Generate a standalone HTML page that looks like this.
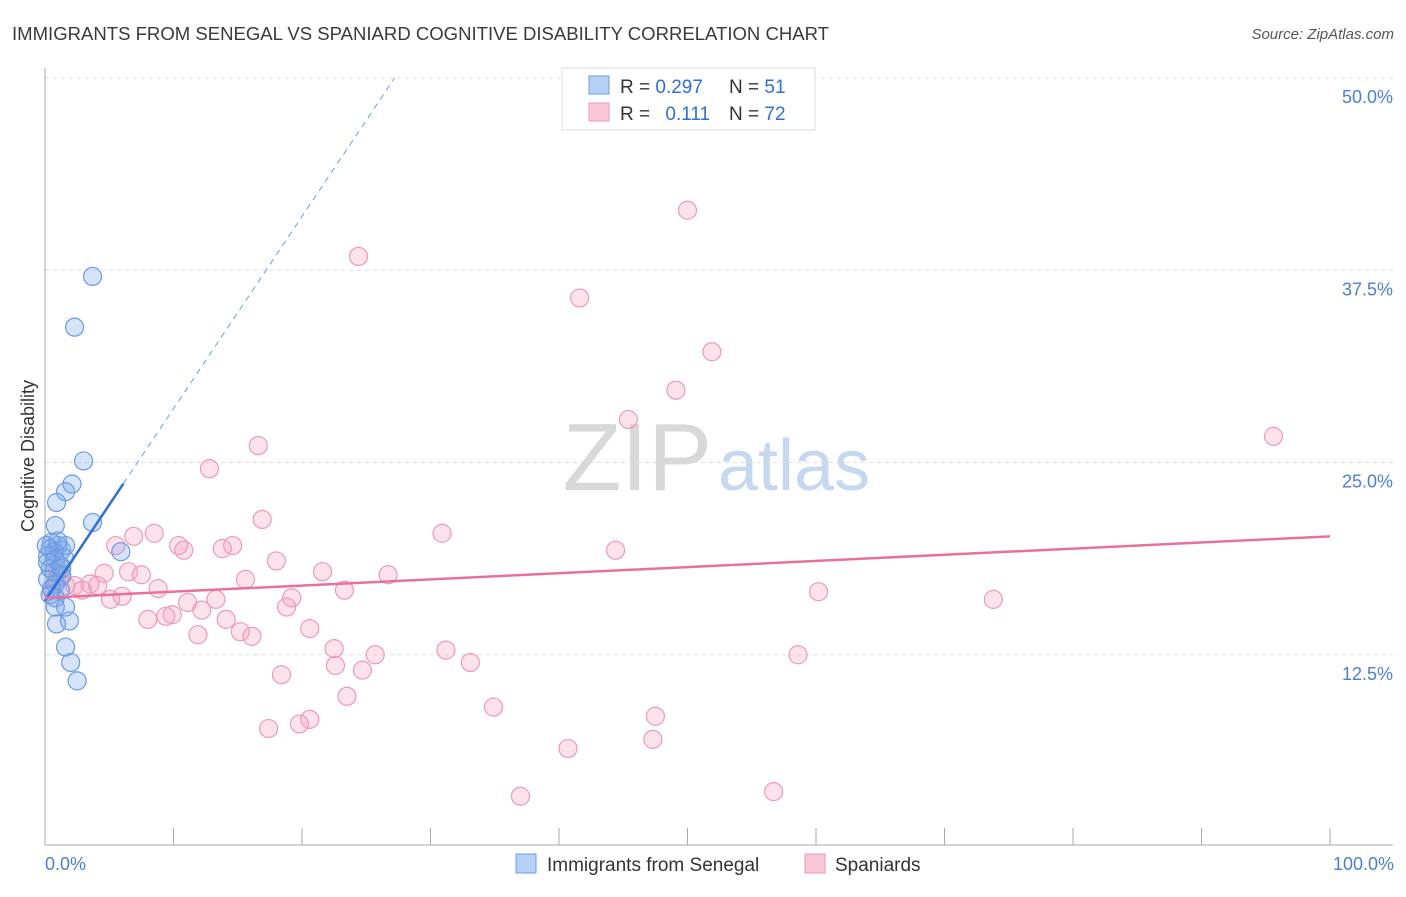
<!DOCTYPE html>
<html><head><meta charset="utf-8"><style>
body{margin:0;background:#fff;font-family:"Liberation Sans",sans-serif;}
svg text{font-family:"Liberation Sans",sans-serif;}
</style></head><body>
<svg id="chart" width="1406" height="892" xmlns="http://www.w3.org/2000/svg">
<text x="12" y="40" font-size="18" fill="#3a3a3a" textLength="817" lengthAdjust="spacingAndGlyphs">IMMIGRANTS FROM SENEGAL VS SPANIARD COGNITIVE DISABILITY CORRELATION CHART</text>
<text x="1394" y="39" font-size="15" fill="#555" font-style="italic" text-anchor="end">Source: ZipAtlas.com</text>
<text x="712" y="490" font-size="96" fill="#d8d8d8" text-anchor="end" font-family="Liberation Serif">ZIP</text>
<text x="718" y="490" font-size="72" fill="#c6d8f0">atlas</text>
<g id="grid"></g>
<g id="axes"></g>
<g id="pts"></g>
<g id="lines"></g>
<text transform="translate(34,456) rotate(-90)" font-size="18" fill="#333" text-anchor="middle">Cognitive Disability</text>
<text x="45" y="870" font-size="18" fill="#4a7fd4">0.0%</text>
<text x="1394" y="870" font-size="18" fill="#4a7fd4" text-anchor="end">100.0%</text>
<g>
<rect x="562" y="68" width="253" height="62" fill="#fff" stroke="#ddd"/>
<rect x="589" y="76" width="20" height="18" fill="#b5d0f5" stroke="#6b9be0"/>
<rect x="589" y="103" width="20" height="18" fill="#f9c8d8" stroke="#eb9ab7"/>
<text x="620" y="93" font-size="19" fill="#333">R = <tspan fill="#2f6fd6">0.297</tspan></text>
<text x="729" y="93" font-size="19" fill="#333">N = <tspan fill="#2f6fd6">51</tspan></text>
<text x="620" y="120" font-size="19" fill="#333">R = <tspan fill="#2f6fd6" dx="10">0.111</tspan></text>
<text x="729" y="120" font-size="19" fill="#333">N = <tspan fill="#2f6fd6">72</tspan></text>
</g>
<g>
<rect x="516" y="854" width="20" height="19" fill="#b5d0f5" stroke="#6b9be0"/>
<text x="547" y="871" font-size="19" fill="#333">Immigrants from Senegal</text>
<rect x="805" y="854" width="20" height="19" fill="#f9c8d8" stroke="#eb9ab7"/>
<text x="835" y="871" font-size="19" fill="#333">Spaniards</text>
</g>
</svg>
<script>
const yTicks=[12.5,25,37.5,50];
const yTickLabels=["12.5%","25.0%","37.5%","50.0%"];
const xTicks=[0,10,20,30,40,50,60,70,80,90,100];
const blueX=[3.7,2.3,3.0,2.1,1.6,0.9,3.7,0.8,5.9,0.5,1.0,0.4,1.3,0.7,1.5,0.2,0.8,1.2,0.4,0.7,1.3,0.2,0.8,0.5,1.2,0.4,0.8,1.6,0.8,1.9,0.9,1.6,2.0,2.5,0.1,1.6,1.0,0.2,1.3];
const blueY=[37.1,33.8,25.1,23.6,23.1,22.4,21.1,20.9,19.2,19.8,19.6,19.4,19.3,19.2,18.8,18.9,18.7,18.3,18.1,17.9,17.6,17.4,17.1,16.8,16.7,16.4,16.2,15.6,15.6,14.7,14.5,13.0,12.0,10.8,19.6,19.6,19.9,18.5,18.1];
const pinkX=[50.0,24.4,41.6,51.9,49.1,45.4,95.6,16.6,12.8,16.9,30.9,8.5,6.9,5.5,10.4,10.8,13.8,14.6,44.4,18.0,4.6,6.5,7.5,21.6,26.7,15.6,2.3,3.5,4.1,2.9,8.8,23.3,60.2,6.0,19.2,5.1,11.1,13.3,73.8,18.8,12.2,9.9,9.4,8.0,14.1,20.6,15.2,11.9,16.1,22.5,31.2,25.7,58.6,22.6,33.1,24.7,18.4,23.5,34.9,47.5,20.6,19.8,17.4,47.3,40.7,37.0,56.7,0.9,1.3,0.5,1.0,1.6];
const pinkY=[41.4,38.4,35.7,32.2,29.7,27.8,26.7,26.1,24.6,21.3,20.4,20.4,20.2,19.6,19.6,19.3,19.4,19.6,19.3,18.6,17.8,17.9,17.7,17.9,17.7,17.4,17.0,17.1,17.0,16.7,16.8,16.7,16.6,16.3,16.2,16.1,15.9,16.1,16.1,15.6,15.4,15.1,15.0,14.8,14.8,14.2,14.0,13.8,13.7,12.9,12.8,12.5,12.5,11.8,12.0,11.5,11.2,9.8,9.1,8.5,8.3,8.0,7.7,7.0,6.4,3.3,3.6,17.4,17.7,16.7,18.0,17.0];
const blueTrend=[16.0,1.25];
const pinkTrend=[16.2,0.04];
const NS="http://www.w3.org/2000/svg";
const X=v=>45+v*12.85, Y=v=>847-v*15.38;
function mk(tag,attrs,parent){const e=document.createElementNS(NS,tag);for(const k in attrs)e.setAttribute(k,attrs[k]);document.getElementById(parent).appendChild(e);return e;}
yTicks.forEach((t,i)=>{
 const l=mk('line',{x1:45,x2:1393,y1:Y(t),y2:Y(t),stroke:'#ddd','stroke-dasharray':'4,4'},'grid');
 
 
 const tx=mk('text',{x:1393,y:Y(t)+25,'font-size':18,fill:'#4a7fd4','text-anchor':'end'},'grid');
 tx.textContent=yTickLabels[i];
 
 
});
const ya=mk('line',{x1:45,x2:45,y1:68,y2:845,stroke:'#aaa'},'axes');


const xa=mk('line',{x1:45,x2:1393,y1:845,y2:845,stroke:'#aaa'},'axes');


xTicks.forEach(t=>{
 const l=mk('line',{x1:X(t),x2:X(t),y1:828,y2:845,stroke:'#aaa'},'axes');
 
 
});
pinkX.forEach((x,i)=>{
 const c=mk('circle',{cx:X(x),cy:Y(pinkY[i]),r:9,fill:'rgba(244,160,190,0.3)',stroke:'#eb9ab7','stroke-width':1.2},'pts');
 
 
});
blueX.forEach((x,i)=>{
 const c=mk('circle',{cx:X(x),cy:Y(blueY[i]),r:9,fill:'rgba(120,165,235,0.3)',stroke:'#6b9be0','stroke-width':1.2},'pts');
 
 
});
const bx2=6.1, bx3=(50-blueTrend[0])/blueTrend[1];
const bl=mk('line',{x1:X(0),y1:Y(blueTrend[0]),x2:X(bx2),y2:Y(blueTrend[0]+blueTrend[1]*bx2),stroke:'#2f6fd6','stroke-width':2.5},'lines');


const bd=mk('line',{x1:X(bx2),y1:Y(blueTrend[0]+blueTrend[1]*bx2),x2:X(bx3),y2:Y(50),stroke:'#6b9be0','stroke-width':1,'stroke-dasharray':'6,5'},'lines');


const pl=mk('line',{x1:X(0),y1:Y(pinkTrend[0]),x2:X(100),y2:Y(pinkTrend[0]+pinkTrend[1]*100),stroke:'#e8709a','stroke-width':2.5},'lines');


</script>
</body></html>
